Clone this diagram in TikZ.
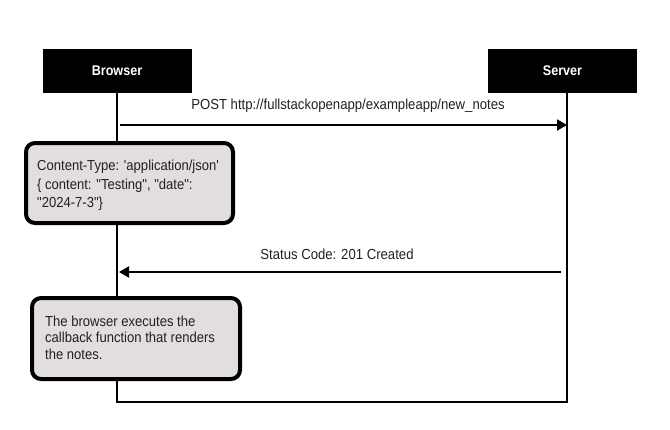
\documentclass[tikz,border=0pt]{standalone}
\usepackage{fontspec}
\setmainfont{Liberation Sans}[FakeStretch=0.9]
\newfontfamily\plainf{Liberation Sans}[FakeStretch=0.9]
\usetikzlibrary{arrows.meta}
\definecolor{notefill}{HTML}{E2DEDE}
\definecolor{txt}{HTML}{202028}
\tikzset{
  actor/.style={fill=black, draw=black, text=white, font=\plainf\fontsize{14}{16}\selectfont\bfseries, minimum width=148pt, minimum height=43pt, inner sep=0pt},
  lifeline/.style={line width=2pt, draw=black},
  msg/.style={line width=2pt, -{Triangle[length=10pt,width=11pt]}},
  note/.style={draw=black, line width=4pt, fill=notefill, rounded corners=9pt},
  notetext/.style={anchor=north west, align=left, text=txt, inner sep=0pt},
  lbl/.style={text=txt, font=\plainf\fontsize{14.6}{16}\selectfont, inner sep=0pt}
}
\begin{document}
\begin{tikzpicture}[x=1pt,y=-1pt]
\useasboundingbox (0,0) rectangle (670,429);
\node[actor] (browser) at (117,70.5) {Browser};
\node[actor] (server) at (562.5,70.5) {Server};
\coordinate (btop) at (117,92);
\coordinate (bbot) at (117,402);
\coordinate (sbot) at (567,402);
\coordinate (stop) at (567,92);
\draw[lifeline] (btop) -- (bbot) -- (sbot) -- (stop);
% POST
\coordinate (p1) at (120,125);
\coordinate (p2) at (567,125);
\draw[msg] (p1) -- (p2);
\node[lbl] (postlbl) at (348,106) {POST http://fullstackopenapp/exampleapp/new\_notes};
% note 1
\node[note, minimum width=207pt, minimum height=80pt, inner sep=0pt] (note1) at (129.5,183) {};
\node[notetext, font=\plainf\fontsize{14.5}{18.5}\selectfont] (note1text) at (37,160) {Content-Type: 'application/json'\\\{ content: "Testing", "date":\\"2024-7-3"\}};
% response
\coordinate (r1) at (561,272);
\coordinate (r2) at (119,272);
\draw[msg] (r1) -- (r2);
\node[lbl] (resplbl) at (337,254) {Status Code: 201 Created};
% note 2
\node[note, minimum width=208pt, minimum height=81pt, inner sep=0pt] (note2) at (136,338.5) {};
\node[notetext, font=\plainf\fontsize{14.5}{16.5}\selectfont] (note2text) at (45,315.5) {The browser executes the\\callback function that renders\\the notes.};
\end{tikzpicture}
\end{document}
